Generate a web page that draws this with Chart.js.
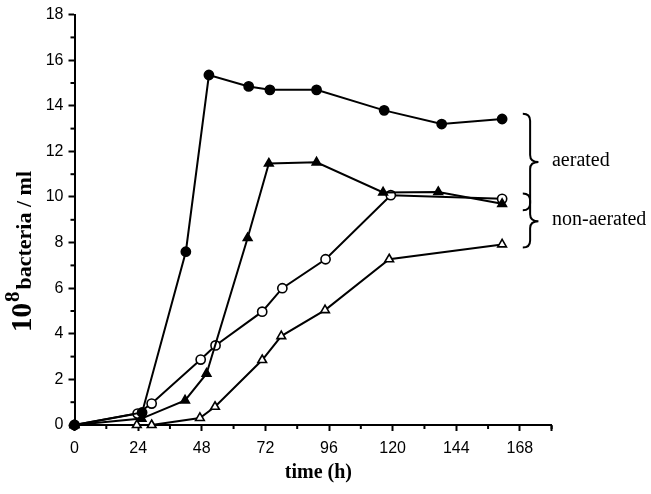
<!DOCTYPE html>
<html>
<head>
<meta charset="utf-8">
<script src="https://cdn.jsdelivr.net/npm/chart.js@4"></script>
<style>
  html, body { margin: 0; padding: 0; background: #fff; }
  #wrap { width: 651px; height: 494px; position: relative; }
</style>
</head>
<body>
<div id="wrap"><canvas id="chart"></canvas></div>
<script>
// Values (time in hours, 10^8 bacteria / ml)
const filledCircleX = [0, 25.5, 42, 50.7, 65.7, 73.7, 91.3, 116.8, 138.5, 161.3];
const filledCircleY = [0, 0.55, 7.6, 15.35, 14.85, 14.7, 14.7, 13.8, 13.2, 13.42];

const filledTriangleX = [0, 25.3, 41.7, 49.8, 65.3, 73.3, 91.3, 116.4, 137.2, 161.3];
const filledTriangleY = [0, 0.28, 1.08, 2.25, 8.2, 11.47, 11.52, 10.2, 10.22, 9.7];

const openCircleX = [0, 23.8, 29.1, 47.6, 53.2, 70.8, 78.4, 94.7, 119.3, 161.3];
const openCircleY = [0, 0.5, 0.94, 2.87, 3.49, 4.97, 6.0, 7.27, 10.08, 9.92];

const openTriangleX = [0, 23.5, 29.1, 47.3, 53, 70.8, 78, 94.5, 118.7, 161.3];
const openTriangleY = [0, 0, 0, 0.31, 0.8, 2.85, 3.9, 5.04, 7.27, 7.92];

// x tick labels shown every 24 h up to 168, y labels every 2
const xLabelTicks = [0, 24, 48, 72, 96, 120, 144, 168];
const yLabelTicks = [0, 2, 4, 6, 8, 10, 12, 14, 16, 18];

// brace annotations: [label, top value, bottom value, tip value]
const braceLabels = ['aerated', 'non-aerated'];
const braceRanges = [[13.65, 9.42, 11.53], [10.15, 7.78, 8.94]];

function toPoints(xs, ys) {
    return xs.map((x, i) => ({ x: x, y: ys[i] }));
}

function series(xs, ys, style, filled) {
    return {
        data: toPoints(xs, ys),
        showLine: true,
        borderColor: '#000',
        borderWidth: 2,
        pointStyle: style,
        pointRadius: style === 'triangle' ? 5 : 4.6,
        pointBorderWidth: 1.6,
        pointBorderColor: '#000',
        pointBackgroundColor: filled ? '#000' : '#fff',
        clip: false
    };
}

// minor ticks, braces and axis titles
const extras = {
    id: 'extras',
    afterDraw(chart) {
        const ctx = chart.ctx;
        const xs = chart.scales.x;
        const ys = chart.scales.y;
        ctx.save();
        ctx.strokeStyle = '#000';
        ctx.lineWidth = 2;
        // minor ticks
        for (let v = 12; v <= 180; v += 24) {
            const px = xs.getPixelForValue(v);
            ctx.beginPath();
            ctx.moveTo(px, ys.bottom);
            ctx.lineTo(px, ys.bottom + 4);
            ctx.stroke();
        }
        for (let v = 1; v < 18; v += 2) {
            const py = ys.getPixelForValue(v);
            ctx.beginPath();
            ctx.moveTo(xs.left, py);
            ctx.lineTo(xs.left - 4, py);
            ctx.stroke();
        }

        // braces
        const x0 = xs.getPixelForValue(169.1);
        const x1 = xs.getPixelForValue(175);
        const xm = (x0 + x1) / 2 - 0.5;
        ctx.lineWidth = 2;
        braceRanges.forEach((r, i) => {
            const yT = ys.getPixelForValue(r[0]);
            const yB = ys.getPixelForValue(r[1]);
            const yM = ys.getPixelForValue(r[2]);
            const rr = 7;
            ctx.beginPath();
            ctx.moveTo(x0, yT);
            ctx.quadraticCurveTo(xm, yT, xm, yT + rr);
            ctx.lineTo(xm, yM - rr);
            ctx.quadraticCurveTo(xm, yM, x1, yM);
            ctx.quadraticCurveTo(xm, yM, xm, yM + rr);
            ctx.lineTo(xm, yB - rr);
            ctx.quadraticCurveTo(xm, yB, x0, yB);
            ctx.stroke();

            ctx.fillStyle = '#000';
            ctx.font = '20px "Liberation Serif"';
            ctx.textAlign = 'left';
            ctx.textBaseline = 'middle';
            ctx.fillText(braceLabels[i], xs.getPixelForValue(180.1), yM - 1);
        });

        // x title
        ctx.font = 'bold 20px "Liberation Serif"';
        ctx.textAlign = 'center';
        ctx.textBaseline = 'alphabetic';
        ctx.fillText('time (h)', xs.getPixelForValue(92), 478);

        // y title, rotated, reading bottom to top
        ctx.translate(31, 332);
        ctx.rotate(-Math.PI / 2);
        ctx.textAlign = 'left';
        ctx.font = 'bold 29px "Liberation Serif"';
        ctx.fillText('10', 0, 0);
        const w1 = ctx.measureText('10').width;
        ctx.font = 'bold 21px "Liberation Serif"';
        ctx.fillText('8', w1 + 1, -12);
        const w2 = ctx.measureText('8').width;
        ctx.font = 'bold 22px "Liberation Serif"';
        ctx.fillText('bacteria / ml', w1 + w2 + 3, 0);
        ctx.restore();
    }
};

new Chart(document.getElementById('chart'), {
    type: 'scatter',
    data: {
        datasets: [
            series(filledCircleX, filledCircleY, 'circle', true),
            series(filledTriangleX, filledTriangleY, 'triangle', true),
            series(openCircleX, openCircleY, 'circle', false),
            series(openTriangleX, openTriangleY, 'triangle', false)
        ]
    },
    options: {
        responsive: true,
        maintainAspectRatio: false,
        animation: false,
        layout: { padding: { left: 0, right: 99.3, top: 8.3, bottom: 0 } },
        plugins: {
            legend: { display: false },
            tooltip: { enabled: false }
        },
        scales: {
            x: {
                type: 'linear',
                min: 0,
                max: 180,
                afterFit: s => { s.height = 69; },
                afterBuildTicks: s => { s.ticks = xLabelTicks.concat([180]).map(v => ({ value: v })); },
                border: { display: true, color: '#000', width: 2 },
                grid: { drawOnChartArea: false, drawTicks: true, tickLength: 6, tickWidth: 2, tickColor: '#000' },
                ticks: {
                    color: '#000',
                    padding: 8,
                    maxRotation: 0,
                    autoSkip: false,
                    font: { family: '"Liberation Sans"', size: 16 },
                    callback: v => xLabelTicks.includes(v) ? String(v) : ''
                }
            },
            y: {
                type: 'linear',
                min: 0,
                max: 18,
                afterFit: s => { s.width = 74.5; },
                afterBuildTicks: s => { s.ticks = yLabelTicks.map(v => ({ value: v })); },
                border: { display: true, color: '#000', width: 2 },
                grid: { drawOnChartArea: false, drawTicks: true, tickLength: 6, tickWidth: 2, tickColor: '#000' },
                ticks: {
                    color: '#000',
                    padding: 5,
                    autoSkip: false,
                    font: { family: '"Liberation Sans"', size: 16 },
                    callback: v => String(v)
                }
            }
        }
    },
    plugins: [extras]
});
</script>
</body>
</html>
